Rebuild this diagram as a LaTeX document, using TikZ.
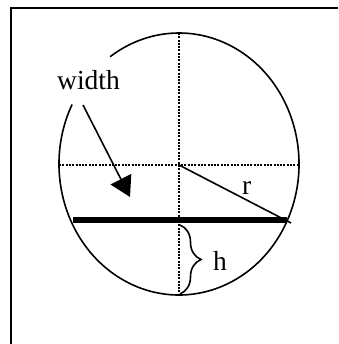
\documentclass[tikz,border=0pt]{standalone}
\usepackage{fontspec}
\setmainfont{Liberation Serif}
\usetikzlibrary{arrows.meta,decorations.pathreplacing}
\begin{document}
\begin{tikzpicture}[x=1pt,y=1pt,
  outline/.style={line width=1.6pt},
  dotline/.style={line width=1.2pt,dash pattern=on 2pt off 1.3pt},
  lbl/.style={inner sep=0pt,font=\fontsize{27.5}{30}\selectfont}]
\useasboundingbox (0,0) rectangle (338,-344);
% frame
\draw[line width=2pt] (338,-8) -- (11,-8) -- (11,-344);
% centre and key points
\coordinate (c) at (179,-165);
\coordinate (top) at (179,-33);
\coordinate (bot) at (179,-295);
\coordinate (lft) at (59,-165);
\coordinate (rgt) at (299,-165);
\coordinate (chl) at (73,-220);
\coordinate (chr) at (287,-220);
\coordinate (rend) at (291,-223);
\coordinate (bt) at (180,-225);
\coordinate (bb) at (180,-294);
\coordinate (as) at (83,-105);
\coordinate (at) at (130,-197);
% ellipse with gap
\draw[outline] (179,-164) ++(153:120 and 131) arc[start angle=153,end angle=485,x radius=120,y radius=131];
% dotted axes
\draw[dotline] (lft) -- (rgt);
\draw[dotline] (top) -- (bot);
% radius
\draw[outline] (c) -- (rend);
% chord
\draw[line width=5.3pt] (chl) -- (chr);
% brace
\draw[outline,decorate,decoration={brace,amplitude=21pt}] (bt) -- (bb);
% arrow
\draw[outline,-{Triangle[length=20pt,width=23pt]}] (as) -- (at);
% labels
\node[lbl,anchor=base west] (w) at (57,-89.3) {width};
\node[lbl,anchor=base west] (r) at (242,-194.3) {r};
\node[lbl,anchor=base west] (h) at (213,-270) {h};
\end{tikzpicture}
\end{document}
